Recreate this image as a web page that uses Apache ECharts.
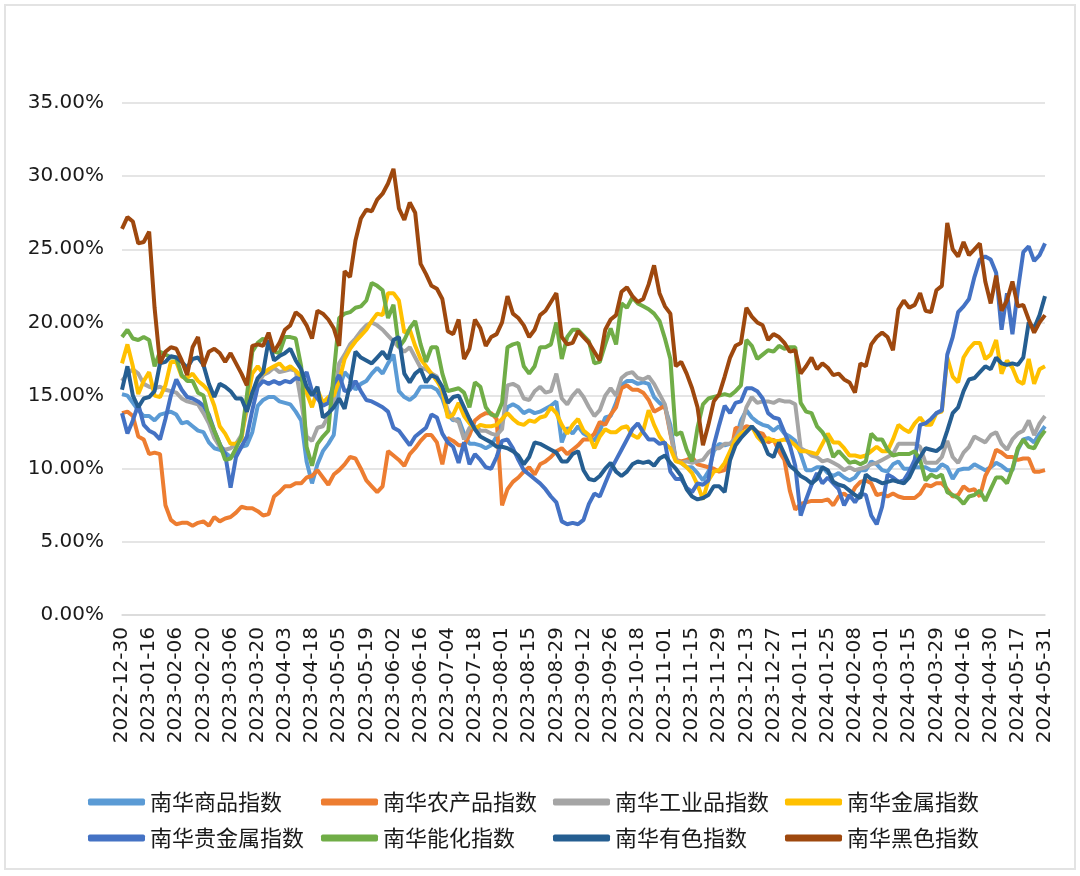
<!DOCTYPE html>
<html>
<head>
<meta charset="utf-8">
<script src="https://cdn.jsdelivr.net/npm/echarts@6/dist/echarts.min.js"></script>
<style>
  html, body { margin: 0; padding: 0; background: #fff; }
  #wrap { position: relative; width: 1080px; height: 876px; }
  #chart { width: 1080px; height: 876px; }
  /* 图表外框 */
  #frame {
    position: absolute; left: 4px; top: 4px; width: 1068px; height: 862px;
    border: 2px solid #e3e3e3; pointer-events: none;
  }
</style>
</head>
<body>
<div id="wrap">
  <div id="chart"></div>
  <div id="frame"></div>
</div>
<script>
// 交易日历：起止日期 + 休市日（周末另外跳过）
const startDate = '2022-12-30';
const endDate = '2024-05-31';
const holidays = [
  '2023-01-02', '2023-01-23', '2023-01-24', '2023-01-25', '2023-01-26', '2023-01-27',
  '2023-04-05', '2023-05-01', '2023-05-02', '2023-05-03', '2023-06-22', '2023-06-23',
  '2023-09-29', '2023-10-02', '2023-10-03', '2023-10-04', '2023-10-05', '2023-10-06',
  '2024-01-01', '2024-02-09', '2024-02-12', '2024-02-13', '2024-02-14', '2024-02-15',
  '2024-02-16', '2024-04-04', '2024-04-05', '2024-05-01', '2024-05-02', '2024-05-03'
];
const sampleStep = 2;   // 每两个交易日取一个点
const labelEvery = 5;   // 每 5 个点标一次日期

const seriesNames = ['南华商品指数', '南华农产品指数', '南华工业品指数', '南华金属指数',
  '南华贵金属指数', '南华能化指数', '南华有色指数', '南华黑色指数'];
const seriesColors = ['#5B9BD5', '#ED7D31', '#A5A5A5', '#FFC000',
  '#4472C4', '#70AD47', '#255E91', '#9E480E'];

// 波动率 (%)
const shangpin = [
  15.1, 15.0, 14.5, 14.0, 13.6, 13.6, 13.3, 13.7, 13.8, 13.9,
  13.7, 13.1, 13.2, 12.9, 12.6, 12.5, 11.8, 11.4, 11.3, 11.1,
  10.8, 11.0, 11.5, 11.6, 12.5, 14.3, 14.7, 14.9, 14.9, 14.6,
  14.5, 14.4, 13.9, 13.3, 10.5, 9.0, 10.3, 11.2, 11.7, 12.3,
  15.5, 16.6, 16.2, 15.4, 15.8, 16.0, 16.5, 16.9, 16.5, 17.2,
  17.8, 15.3, 14.9, 14.7, 15.0, 15.6, 15.6, 15.6, 15.4, 14.8,
  13.7, 13.3, 13.4, 12.4, 11.7, 11.7, 11.6, 11.4, 11.6, 12.2,
  13.2, 14.2, 14.4, 14.2, 13.8, 14.0, 13.8, 13.9, 14.1, 14.3,
  14.6, 11.8, 12.8, 12.4, 12.9, 12.4, 12.2, 11.9, 12.6, 13.5,
  13.6, 14.5, 15.7, 16.0, 16.0, 15.8, 15.9, 15.8, 14.9, 14.5,
  14.2, 13.0, 10.6, 10.4, 10.1, 10.1, 9.7, 9.2, 9.8, 11.2,
  11.7, 11.6, 11.7, 12.0, 13.3, 14.0, 13.5, 13.2, 13.0, 12.9,
  12.6, 12.9, 12.4, 12.2, 11.9, 11.0, 9.9, 9.9, 10.1, 10.1,
  9.7, 9.5, 9.7, 9.4, 9.2, 9.4, 9.9, 9.9, 10.5, 10.3,
  9.9, 9.8, 10.3, 10.5, 10.0, 10.0, 10.1, 10.1, 10.1, 9.9,
  9.9, 10.3, 10.1, 9.3, 9.9, 10.0, 10.0, 10.3, 10.1, 9.9,
  10.1, 10.4, 10.2, 9.9, 9.9, 11.3, 12.0, 12.1, 11.8, 12.4,
  12.9
];
const nongchanpin = [
  13.8, 13.9, 13.6, 12.2, 12.0, 11.0, 11.1, 11.0, 7.5, 6.5,
  6.2, 6.3, 6.3, 6.1, 6.3, 6.4, 6.1, 6.7, 6.4, 6.6,
  6.7, 7.0, 7.4, 7.3, 7.3, 7.1, 6.8, 6.9, 8.1, 8.4,
  8.8, 8.8, 9.0, 9.0, 9.4, 9.5, 9.9, 9.4, 8.9, 9.6,
  9.9, 10.3, 10.8, 10.7, 10.0, 9.2, 8.8, 8.4, 8.8, 11.2,
  10.9, 10.6, 10.2, 11.0, 11.4, 11.9, 12.3, 12.3, 11.8, 10.3,
  12.1, 11.9, 11.6, 11.6, 12.3, 13.3, 13.6, 13.8, 13.8, 13.4,
  7.5, 8.6, 9.1, 9.4, 9.8, 10.1, 9.6, 10.3, 10.5, 10.8,
  11.2, 11.4, 11.0, 11.3, 11.6, 12.0, 12.0, 12.4, 13.2, 13.0,
  13.7, 14.2, 15.5, 15.7, 15.4, 15.4, 15.2, 14.7, 13.9, 14.1,
  14.3, 12.4, 10.6, 10.5, 10.6, 10.8, 10.3, 10.2, 10.1, 10.0,
  9.8, 9.9, 10.8, 12.8, 12.7, 12.9, 12.8, 12.5, 12.4, 11.8,
  12.0, 11.2, 10.6, 8.5, 7.2, 7.6, 7.7, 7.8, 7.8, 7.8,
  7.9, 7.5, 8.1, 8.3, 8.0, 8.7, 9.1, 9.2, 9.0, 8.2,
  8.3, 8.1, 8.3, 8.1, 8.0, 8.0, 8.0, 8.3, 8.9, 8.8,
  9.0, 9.0, 8.6, 8.1, 8.2, 8.8, 8.5, 8.6, 8.1, 9.5,
  10.2, 11.3, 11.1, 10.8, 10.8, 10.6, 10.7, 10.7, 9.8, 9.8,
  9.9
];
const gongyepin = [
  16.0, 16.5, 16.8, 16.5, 15.8, 15.6, 15.5, 15.6, 15.4, 15.3,
  15.2, 14.8, 14.6, 14.5, 14.4, 13.8, 13.1, 12.1, 11.5, 11.3,
  11.4, 11.7, 12.3, 14.0, 15.0, 15.8, 16.4, 16.6, 16.9, 16.6,
  16.7, 16.8, 16.7, 14.6, 12.2, 11.9, 12.8, 12.9, 13.6, 14.6,
  17.2, 17.8, 18.5, 18.9, 19.4, 19.8, 20.0, 19.8, 19.5, 19.1,
  18.7, 18.3, 18.0, 18.3, 17.6, 16.9, 16.8, 16.5, 16.3, 15.2,
  14.0, 13.4, 13.2, 12.0, 12.8, 12.9, 12.6, 12.6, 12.4, 12.3,
  12.7, 15.7, 15.8, 15.6, 14.8, 14.7, 15.3, 15.6, 15.2, 15.3,
  16.5, 14.8, 14.4, 15.0, 15.4, 14.9, 14.2, 13.6, 14.0, 15.0,
  15.5, 15.0, 16.2, 16.5, 16.6, 16.2, 16.1, 16.3, 15.8, 15.1,
  14.4, 12.5, 10.6, 10.4, 10.5, 10.4, 10.5, 10.6, 11.1, 11.4,
  11.4, 11.7, 11.7, 12.1, 12.8, 14.2, 14.9, 14.5, 14.6, 14.6,
  14.5, 14.7, 14.6, 14.6, 14.4, 11.4, 11.2, 10.9, 10.8, 10.5,
  10.6, 10.4, 10.2, 9.9, 10.1, 9.9, 10.0, 10.1, 10.3, 10.4,
  10.6, 10.8, 11.0, 11.7, 11.7, 11.7, 11.7, 11.5, 10.4, 10.4,
  10.4, 10.8, 11.9, 10.8, 10.4, 11.1, 11.5, 12.2, 12.0, 11.8,
  12.3, 12.5, 11.7, 11.3, 12.0, 12.4, 12.6, 13.3, 12.3, 13.1,
  13.6
];
const jinshu = [
  17.2, 18.5, 17.0, 15.1, 16.0, 16.6, 15.0, 14.9, 15.7, 17.3,
  17.3, 16.3, 16.2, 16.5, 16.0, 15.7, 15.3, 14.3, 12.9, 12.4,
  11.7, 11.7, 12.0, 14.5, 16.5, 17.0, 16.5, 16.8, 17.0, 17.2,
  16.8, 17.0, 16.7, 16.3, 15.2, 14.2, 15.4, 14.5, 14.9, 15.0,
  16.0, 17.5, 18.2, 18.7, 19.1, 19.5, 20.1, 20.6, 20.5, 22.0,
  22.0, 21.5, 19.3, 19.5, 18.4, 17.5, 17.0, 16.5, 16.0, 15.4,
  13.5, 13.7, 14.5, 13.6, 13.1, 12.7, 13.0, 12.9, 12.9, 13.0,
  13.4, 13.8, 13.4, 13.1, 13.0, 13.3, 13.2, 13.5, 13.6, 14.2,
  13.8, 13.0, 12.4, 13.0, 13.4, 12.6, 12.3, 11.4, 12.2, 12.7,
  12.5, 12.5, 12.8, 12.9, 12.3, 12.1, 12.6, 14.0, 13.0, 12.2,
  11.7, 11.4, 10.5, 10.4, 10.1, 9.7, 8.9, 7.9, 9.2, 9.8,
  9.9, 10.4, 11.2, 12.0, 12.4, 12.6, 12.9, 12.2, 11.8, 12.1,
  11.9, 11.9, 12.0, 11.9, 11.6, 11.2, 11.2, 11.1, 11.0, 11.7,
  12.4, 11.8, 11.8, 11.4, 10.9, 10.9, 10.8, 10.9, 11.2, 11.5,
  11.2, 11.2, 12.0, 13.0, 12.7, 12.5, 13.1, 13.5, 13.0, 13.0,
  13.8, 13.9, 17.6, 16.3, 15.9, 17.6, 18.2, 18.6, 18.6, 17.5,
  17.8, 18.8, 16.5, 17.4, 16.9, 16.0, 15.8, 17.5, 15.8, 16.8,
  17.0
];
const guijinshu = [
  13.8, 12.4, 13.3, 14.4, 13.0, 12.6, 12.4, 12.0, 13.4, 15.0,
  16.1, 15.4, 14.9, 14.8, 14.6, 14.3, 13.7, 12.6, 11.7, 11.0,
  8.7, 10.8, 11.5, 12.2, 14.0, 15.6, 16.0, 15.8, 16.0, 15.8,
  16.0, 15.9, 16.2, 16.1, 16.6, 15.3, 14.8, 14.3, 14.5, 15.8,
  16.4, 15.3, 15.4, 16.0, 15.3, 14.7, 14.6, 14.4, 14.2, 13.9,
  12.8, 12.6, 12.1, 11.6, 12.2, 12.5, 12.8, 13.7, 13.5, 12.4,
  11.8, 11.5, 10.4, 11.8, 10.3, 11.0, 10.6, 10.1, 10.0, 10.8,
  11.9, 12.0, 11.4, 10.6, 9.9, 9.6, 9.3, 9.0, 8.6, 8.1,
  7.7, 6.4, 6.2, 6.3, 6.2, 6.5, 7.6, 8.3, 8.1, 9.0,
  9.9, 10.6, 11.3, 12.0, 12.7, 13.1, 12.5, 12.0, 12.0, 11.7,
  11.8, 9.8, 9.3, 9.3, 8.7, 8.4, 9.0, 8.9, 9.2, 11.6,
  13.0, 14.3, 13.8, 14.5, 14.6, 15.5, 15.5, 15.3, 14.8, 13.8,
  13.5, 13.4, 12.5, 11.6, 10.2, 6.8, 7.9, 8.9, 9.7, 9.0,
  9.4, 9.0, 8.6, 7.5, 8.2, 7.7, 8.3, 8.2, 6.8, 6.2,
  7.4, 9.6, 9.4, 9.1, 9.2, 9.8, 10.6, 13.0, 13.1, 13.4,
  13.8, 14.0, 17.8, 19.0, 20.7, 21.1, 21.6, 23.1, 24.3, 24.5,
  24.3, 23.4, 19.5, 22.0, 19.2, 22.2, 24.8, 25.2, 24.2, 24.6,
  25.4
];
const nenghua = [
  19.0, 19.5, 18.9, 18.8, 19.0, 18.8, 17.0, 18.0, 17.8, 17.6,
  17.6, 16.4, 16.0, 16.0, 15.2, 15.0, 13.5, 12.6, 11.7, 10.6,
  10.7, 11.4, 12.2, 15.0, 18.0, 18.6, 18.9, 18.4, 18.0, 17.9,
  19.0, 19.0, 18.9, 17.0, 11.5, 10.2, 11.7, 12.2, 12.6, 16.5,
  20.3, 20.6, 20.7, 21.0, 21.1, 21.5, 22.7, 22.5, 22.2, 20.3,
  21.2, 18.3, 18.8, 19.6, 20.1, 18.5, 17.3, 18.3, 18.3, 16.5,
  15.3, 15.4, 15.5, 15.2, 14.2, 15.9, 15.6, 14.2, 13.7, 13.6,
  14.5, 18.3, 18.5, 18.6, 17.0, 16.5, 17.0, 18.3, 18.3, 18.5,
  20.0, 17.5, 19.0, 19.5, 19.5, 19.1, 18.7, 17.2, 17.3, 18.5,
  19.6, 18.5, 21.3, 21.0, 21.7, 21.3, 21.1, 20.9, 20.6, 20.1,
  18.9, 17.5, 12.3, 12.5, 11.3, 10.5, 12.8, 14.4, 14.8, 14.9,
  15.0, 15.1, 15.0, 15.3, 15.7, 18.8, 18.4, 17.5, 17.8, 18.1,
  18.0, 18.4, 18.2, 18.3, 18.3, 14.5, 13.9, 13.8, 12.9, 12.5,
  11.9, 10.8, 11.2, 10.8, 10.4, 10.5, 10.3, 10.5, 12.4, 12.0,
  12.0, 11.3, 10.9, 11.0, 11.0, 11.0, 11.2, 10.6, 9.2, 9.6,
  9.4, 9.6, 8.4, 8.2, 8.0, 7.6, 8.1, 8.2, 8.5, 7.8,
  8.6, 9.4, 9.4, 9.0, 10.0, 11.4, 12.0, 11.5, 11.4, 12.1,
  12.6
];
const youse = [
  15.4, 17.0, 15.0, 14.2, 14.8, 14.9, 15.3, 17.2, 17.3, 17.7,
  17.6, 17.3, 16.9, 17.5, 17.6, 17.1, 15.8, 14.9, 15.8, 15.6,
  15.3, 14.8, 14.8, 13.9, 15.2, 16.2, 16.6, 18.8, 17.4, 17.7,
  17.9, 18.2, 17.4, 16.8, 15.6, 15.0, 15.6, 13.5, 13.8, 14.2,
  14.8, 14.1, 15.8, 18.0, 17.6, 17.4, 17.2, 17.6, 18.0, 17.5,
  18.8, 19.0, 16.5, 15.9, 16.5, 16.8, 15.9, 16.4, 16.2, 15.6,
  14.5, 14.9, 15.0, 14.2, 13.4, 12.7, 12.2, 12.0, 11.8, 11.5,
  11.5, 11.4, 11.2, 10.9, 10.3, 10.8, 11.8, 11.7, 11.5, 11.3,
  11.1, 10.5, 10.5, 11.0, 11.2, 9.9, 9.3, 9.2, 9.5, 10.0,
  10.4, 9.8, 9.5, 9.8, 10.3, 10.5, 10.4, 10.5, 10.2, 10.7,
  10.9, 10.4, 10.0, 9.5, 8.6, 8.1, 7.9, 8.0, 8.2, 8.8,
  8.8, 8.4, 10.6, 11.6, 12.1, 12.5, 12.9, 12.5, 11.9, 11.0,
  10.8, 11.8, 11.0, 10.2, 9.9, 9.5, 9.3, 9.0, 9.3, 10.1,
  9.9, 9.1, 8.9, 8.8, 8.5, 8.2, 8.0, 9.6, 9.3, 9.2,
  9.0, 9.1, 9.2, 9.1, 9.0, 9.4, 10.2, 10.8, 11.4, 11.3,
  11.2, 11.5, 12.6, 13.8, 14.2, 15.3, 16.1, 16.2, 16.6, 17.0,
  16.8, 17.6, 17.2, 17.1, 17.2, 17.1, 17.6, 20.0, 19.6, 20.5,
  21.8
];
const heise = [
  26.4, 27.2, 26.9, 25.4, 25.5, 26.2, 21.0, 17.2, 18.0, 18.3,
  18.2, 17.4, 16.4, 18.3, 19.0, 17.0, 18.0, 18.2, 17.9, 17.3,
  17.9, 17.2, 16.5, 15.7, 18.4, 18.5, 18.4, 19.3, 18.0, 18.6,
  19.5, 19.8, 20.7, 20.4, 19.8, 18.9, 20.8, 20.6, 20.2, 19.6,
  18.4, 23.5, 23.1, 25.6, 27.1, 27.7, 27.6, 28.4, 28.8, 29.5,
  30.5, 27.8, 27.0, 28.2, 27.5, 24.0, 23.3, 22.5, 22.3, 21.6,
  19.4, 19.2, 20.2, 17.5, 18.2, 20.2, 19.6, 18.4, 19.0, 19.2,
  20.0, 21.8, 20.6, 20.3, 19.8, 19.0, 19.5, 20.5, 20.8, 21.4,
  22.0, 19.0, 18.5, 18.6, 19.4, 19.0, 18.6, 18.0, 17.4, 19.5,
  20.2, 20.5, 22.1, 22.4, 21.8, 21.4, 21.6, 22.6, 23.9, 22.0,
  21.1, 20.6, 17.0, 17.3, 16.5, 15.5, 14.2, 11.6, 13.0, 14.6,
  15.1, 16.3, 17.6, 18.4, 18.6, 21.0, 20.4, 20.0, 19.8, 18.8,
  19.2, 19.0, 18.6, 18.0, 18.1, 16.5, 17.0, 17.6, 16.8, 17.2,
  16.9, 16.4, 16.5, 16.1, 15.9, 15.2, 17.2, 17.0, 18.5, 19.0,
  19.3, 19.0, 18.1, 20.9, 21.5, 21.0, 21.2, 22.0, 20.8, 20.7,
  22.2, 22.5, 26.8, 25.0, 24.5, 25.5, 24.6, 25.0, 25.4, 22.8,
  21.3, 23.2, 20.8, 21.5, 22.8, 21.1, 21.2, 20.2, 19.3, 20.0,
  20.5
];

const seriesData = [shangpin, nongchanpin, gongyepin, jinshu, guijinshu, nenghua, youse, heise];

// 生成交易日
function tradingDays(from, to, closed) {
  const out = [];
  const skip = new Set(closed);
  const d = new Date(from + 'T00:00:00Z');
  const end = new Date(to + 'T00:00:00Z');
  while (d <= end) {
    const s = d.toISOString().slice(0, 10);
    const wd = d.getUTCDay();
    if (wd !== 0 && wd !== 6 && !skip.has(s)) out.push(s);
    d.setUTCDate(d.getUTCDate() + 1);
  }
  return out;
}
const allDays = tradingDays(startDate, endDate, holidays);
const dates = allDays.filter((_, i) => i % sampleStep === 0);

const chart = echarts.init(document.getElementById('chart'));

const legendLeft = [83, 316, 548, 780];
const legendTop = [786, 822];

const option = {
  backgroundColor: '#fff',
  animation: false,
  color: seriesColors,
  grid: {
    left: 122,
    right: 35,
    top: 103,
    bottom: 261
  },
  legend: seriesNames.map((name, i) => ({
    data: [name],
    left: legendLeft[i % 4],
    top: legendTop[Math.floor(i / 4)],
    icon: 'roundRect',
    itemWidth: 57,
    itemHeight: 7,
    selectedMode: false,
    textStyle: {
      fontFamily: 'Noto Sans CJK SC',
      fontSize: 22,
      color: '#1a1a1a'
    }
  })),
  xAxis: {
    type: 'category',
    data: dates,
    boundaryGap: false,
    axisLine: { lineStyle: { color: '#d9d9d9', width: 1.5 } },
    axisTick: { show: false },
    axisLabel: {
      interval: labelEvery - 1,
      rotate: 90,
      margin: 12,
      fontFamily: 'DejaVu Sans',
      fontSize: 20,
      color: '#1a1a1a'
    }
  },
  yAxis: {
    type: 'value',
    min: 0,
    max: 35,
    interval: 5,
    axisLine: { show: false },
    axisTick: { show: false },
    splitLine: { lineStyle: { color: '#dcdcdc', width: 1.5 } },
    axisLabel: {
      margin: 18,
      fontFamily: 'DejaVu Sans',
      fontSize: 20,
      color: '#1a1a1a',
      formatter: v => v.toFixed(2) + '%'
    }
  },
  series: seriesNames.map((name, i) => ({
    name: name,
    type: 'line',
    data: seriesData[i],
    showSymbol: false,
    symbol: 'none',
    lineStyle: { width: 4, color: seriesColors[i] },
    itemStyle: { color: seriesColors[i] }
  }))
};

chart.setOption(option);
</script>
</body>
</html>
